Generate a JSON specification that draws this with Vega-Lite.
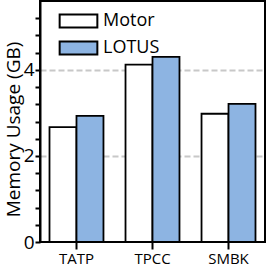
{
  "$schema": "https://vega.github.io/schema/vega-lite/v6.json",
  "width": 225,
  "height": 241,
  "autosize": {"type": "none"},
  "padding": {"left": 40, "top": 1, "right": 4, "bottom": 27},
  "config": {
    "view": {"stroke": "black", "strokeWidth": 2},
    "font": "Open Sans"
  },
  "data": {
    "values": [
      {"bench": "TATP", "system": "Motor", "gb": 2.67},
      {"bench": "TATP", "system": "LOTUS", "gb": 2.93},
      {"bench": "TPCC", "system": "Motor", "gb": 4.12},
      {"bench": "TPCC", "system": "LOTUS", "gb": 4.3},
      {"bench": "SMBK", "system": "Motor", "gb": 2.98},
      {"bench": "SMBK", "system": "LOTUS", "gb": 3.21}
    ]
  },
  "mark": {"type": "bar", "stroke": "black", "strokeWidth": 1.8},
  "encoding": {
    "x": {
      "field": "bench",
      "type": "nominal",
      "sort": ["TATP", "TPCC", "SMBK"],
      "scale": {"paddingInner": 0.29, "paddingOuter": 0.125},
      "axis": {
        "title": null,
        "labelAngle": 0,
        "labelFontSize": 15,
        "labelColor": "black",
        "tickColor": "black",
        "tickWidth": 2,
        "tickSize": 7,
        "domain": false,
        "labelPadding": 2
      }
    },
    "xOffset": {
      "field": "system",
      "type": "nominal",
      "sort": ["Motor", "LOTUS"],
      "scale": {"paddingInner": 0, "paddingOuter": 0}
    },
    "y": {
      "field": "gb",
      "type": "quantitative",
      "scale": {"domain": [0, 5.6], "nice": false, "zero": true},
      "axis": {
        "title": "Memory Usage (GB)",
        "titleFontSize": 19,
        "titleFontWeight": "normal",
        "titleColor": "black",
        "titlePadding": 0,
        "titleY": 128,
        "values": [0, 0.4, 0.8, 1.2, 1.6, 2, 2.4, 2.8, 3.2, 3.6, 4, 4.4, 4.8, 5.2],
        "labelExpr": "datum.value % 2 === 0 ? datum.value : ''",
        "labelFontSize": 19,
        "labelColor": "black",
        "labelPadding": 1,
        "tickColor": "black",
        "tickWidth": 2,
        "tickSize": 5,
        "domainColor": "black",
        "domainWidth": 2,
        "grid": true,
        "gridColor": "#c8c8c8",
        "gridWidth": 2,
        "gridDash": [6, 3],
        "gridOpacity": {"condition": {"test": "datum.value === 2 || datum.value === 4", "value": 1}, "value": 0}
      }
    },
    "fill": {
      "field": "system",
      "type": "nominal",
      "sort": ["Motor", "LOTUS"],
      "scale": {"domain": ["Motor", "LOTUS"], "range": ["white", "#8db4e2"]},
      "legend": {
        "title": null,
        "orient": "none",
        "legendX": 29.5,
        "legendY": 11,
        "padding": 0,
        "symbolType": "M-2.9,-1H2.9V1H-2.9Z",
        "symbolSize": 169,
        "symbolStrokeColor": "black",
        "symbolStrokeWidth": 2,
        "symbolOpacity": 1,
        "labelFontSize": 18,
        "labelColor": "black",
        "labelOffset": 15.5,
        "rowPadding": 5
      }
    }
  }
}
